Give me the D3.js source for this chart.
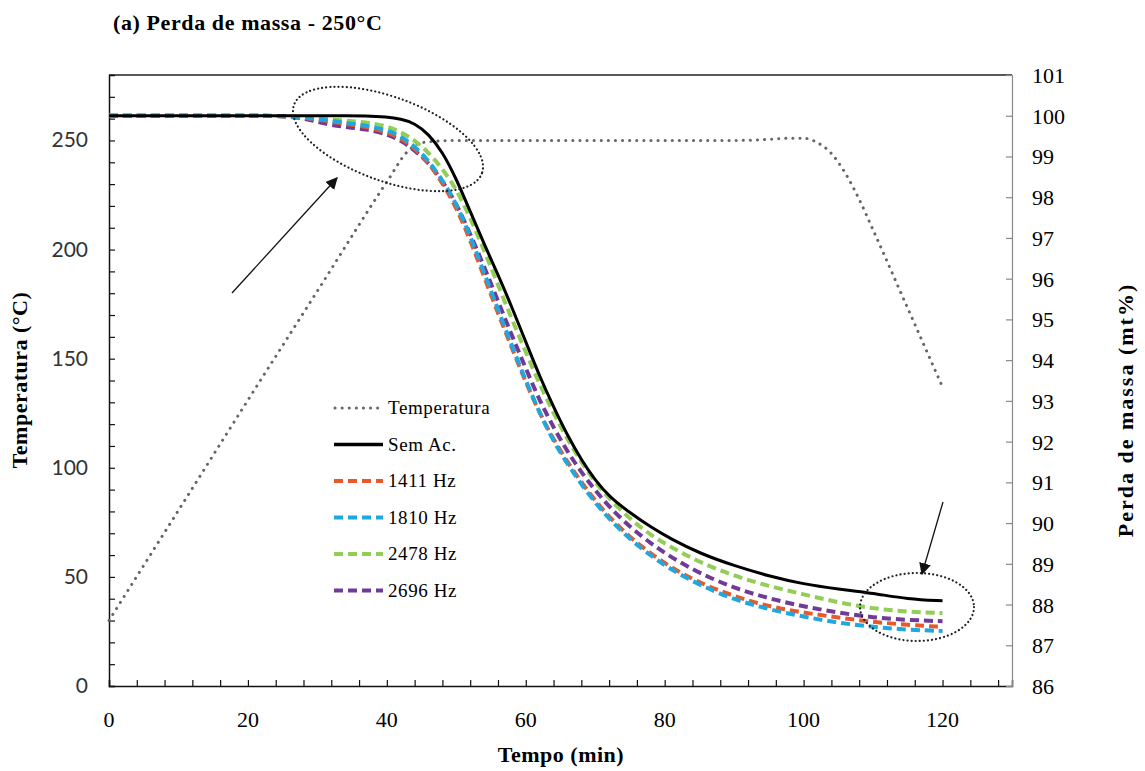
<!DOCTYPE html>
<html>
<head>
<meta charset="utf-8">
<script src="https://cdn.jsdelivr.net/npm/d3@7"></script>
<style>
  body { margin: 0; background: #fff; }
  svg { display: block; }
  .serif { font-family: "Liberation Serif", "Times New Roman", serif; }
</style>
</head>
<body>
<svg id="chart" width="1145" height="771"></svg>
<script>
// time (min) shared by every series
var tempo = [0, 10, 20, 24, 28, 31, 34, 37, 40, 42, 44, 46, 48, 50, 52, 54, 56, 58, 60,
    62, 64, 66, 68, 70, 72, 75, 78, 81, 85, 90, 95, 100, 105, 110, 115, 120];

// temperature program (left axis, °C)
var tempoTemp = [0, 10, 20, 30, 40, 43, 45, 50, 60, 70, 80, 90, 95, 98, 100, 102, 104, 106, 108, 110, 115, 120];
var temperatura = [30, 80.5, 131, 181, 231, 245, 249, 250, 250, 250, 250, 250, 250.5, 251, 251, 249, 244, 235, 223, 209, 173, 137];

// mass (right axis, wt%)
var semAc = [100, 100, 100, 100, 100, 100, 100, 100, 99.97, 99.92, 99.82, 99.55, 99.12, 98.45, 97.65, 96.85, 96.1, 95.3, 94.45,
    93.6, 92.85, 92.15, 91.55, 91.05, 90.65, 90.25, 89.9, 89.6, 89.26, 88.95, 88.7, 88.5, 88.38, 88.28, 88.13, 88.09];
var hz1411 = [100, 100, 100, 100, 99.96, 99.88, 99.8, 99.73, 99.6, 99.45, 99.2, 98.85, 98.35, 97.75, 96.95, 96.05, 95.15, 94.3, 93.45,
    92.7, 92.05, 91.5, 91.0, 90.55, 90.15, 89.65, 89.25, 88.9, 88.53, 88.2, 87.95, 87.8, 87.68, 87.57, 87.5, 87.45];
var hz1810 = [100, 100, 100, 100, 99.96, 99.9, 99.83, 99.76, 99.65, 99.5, 99.25, 98.9, 98.42, 97.85, 97.05, 96.15, 95.25, 94.35, 93.5,
    92.7, 92.0, 91.45, 90.95, 90.5, 90.1, 89.6, 89.2, 88.85, 88.48, 88.12, 87.88, 87.7, 87.55, 87.45, 87.38, 87.35];
var hz2478 = [100, 100, 100, 100, 99.97, 99.92, 99.88, 99.84, 99.75, 99.6, 99.4, 99.1, 98.7, 98.2, 97.5, 96.7, 95.85, 95.0, 94.2,
    93.4, 92.7, 92.05, 91.5, 91.0, 90.6, 90.1, 89.7, 89.4, 89.04, 88.7, 88.45, 88.25, 88.05, 87.9, 87.82, 87.79];
var hz2696 = [100, 100, 100, 100, 99.95, 99.8, 99.72, 99.67, 99.55, 99.4, 99.15, 98.85, 98.4, 97.85, 97.1, 96.3, 95.45, 94.6, 93.8,
    93.0, 92.35, 91.75, 91.25, 90.8, 90.4, 89.9, 89.5, 89.15, 88.77, 88.4, 88.15, 87.95, 87.8, 87.68, 87.62, 87.59];

var seriesNames = ["Sem Ac.", "1411 Hz", "1810 Hz", "2478 Hz", "2696 Hz"];
var seriesColors = ["#000000", "#e8582b", "#1fa8de", "#92cd55", "#6f3a98"];
var seriesValues = [semAc, hz1411, hz1810, hz2478, hz2696];

var xTicksMajor = [0, 20, 40, 60, 80, 100, 120];
var yLeftTicks = [0, 50, 100, 150, 200, 250];
var yRightTicks = d3.range(86, 102);

var plotL = 109, plotR = 1012, plotT = 75, plotB = 686;
var svg = d3.select("#chart");

var x = d3.scaleLinear().domain([0, 130]).range([plotL, plotR]);
var yL = d3.scaleLinear().domain([0, 280]).range([plotB, plotT]);
var yR = d3.scaleLinear().domain([86, 101]).range([plotB, plotT]);

// title
svg.append("text").attr("class", "serif").attr("x", 113).attr("y", 30)
    .style("font-size", "22px").style("font-weight", "bold").style("letter-spacing", "0.6px")
    .text("(a) Perda de massa - 250°C");

// frame top line
svg.append("line").attr("x1", plotL).attr("x2", plotR).attr("y1", plotT).attr("y2", plotT)
    .attr("stroke", "#222").attr("stroke-width", 1.3);

// bottom axis, small ticks every 4 min pointing inward
var xAxis = svg.append("g").attr("transform", "translate(0," + plotB + ")");
xAxis.call(d3.axisTop(x).tickValues(d3.range(0, 130, 4)).tickSize(6).tickFormat(""));
xAxis.select(".domain").attr("stroke", "#111").attr("stroke-width", 1.5);
xAxis.selectAll(".tick line").attr("stroke", "#111").attr("stroke-width", 1.2);
svg.append("g").selectAll("text").data(xTicksMajor).join("text")
    .attr("class", "serif").attr("x", function (d) { return x(d); }).attr("y", 727)
    .attr("text-anchor", "middle").style("font-size", "22px").text(function (d) { return d; });

// left axis
var yAxis = svg.append("g").attr("transform", "translate(" + plotL + ",0)");
yAxis.call(d3.axisRight(yL).tickValues(d3.range(0, 280, 10)).tickSize(6).tickFormat(""));
yAxis.select(".domain").attr("stroke", "#111").attr("stroke-width", 1.5);
yAxis.selectAll(".tick line").attr("stroke", "#111").attr("stroke-width", 1.2);
svg.append("g").selectAll("text").data(yLeftTicks).join("text")
    .attr("x", 88).attr("y", function (d) { return yL(d) + 7; })
    .attr("text-anchor", "end").style("font-family", "Lato, 'Open Sans', sans-serif")
    .style("font-size", "21px").style("fill", "#333").text(function (d) { return d; });

// right axis (grey)
var yAxisR = svg.append("g").attr("transform", "translate(" + plotR + ",0)");
yAxisR.call(d3.axisLeft(yR).tickValues(yRightTicks).tickSize(6).tickFormat(""));
yAxisR.select(".domain").attr("stroke", "#888").attr("stroke-width", 1.2);
yAxisR.selectAll(".tick line").attr("stroke", "#888").attr("stroke-width", 1.2);
svg.append("g").selectAll("text").data(yRightTicks).join("text")
    .attr("class", "serif").attr("x", 1032).attr("y", function (d) { return yR(d) + 8; })
    .style("font-size", "22px").text(function (d) { return d; });

// axis titles
svg.append("text").attr("class", "serif")
    .attr("transform", "translate(27,380) rotate(-90)").attr("text-anchor", "middle")
    .style("font-size", "22px").style("font-weight", "bold").style("letter-spacing", "0.5px")
    .text("Temperatura (°C)");
svg.append("text").attr("class", "serif")
    .attr("transform", "translate(1133,410) rotate(-90)").attr("text-anchor", "middle")
    .style("font-size", "22px").style("font-weight", "bold").style("letter-spacing", "2px")
    .text("Perda de massa (mt%)");
svg.append("text").attr("class", "serif").attr("x", 561).attr("y", 762)
    .attr("text-anchor", "middle").style("font-size", "22px").style("font-weight", "bold")
    .style("letter-spacing", "0.5px").text("Tempo (min)");

// temperature line
var tempLine = d3.line().x(function (d) { return x(d[0]); }).y(function (d) { return yL(d[1]); })
    .curve(d3.curveMonotoneX);
svg.append("path").datum(d3.zip(tempoTemp, temperatura)).attr("d", tempLine)
    .attr("fill", "none").attr("stroke", "#666").attr("stroke-width", 3)
    .attr("stroke-dasharray", "0.1 7").attr("stroke-linecap", "round");

// mass curves, dashed first, Sem Ac. on top
var massLine = d3.line().x(function (d) { return x(d[0]); }).y(function (d) { return yR(d[1]); })
    .curve(d3.curveBasis);
[3, 4, 1, 2, 0].forEach(function (i) {
    var p = svg.append("path").datum(d3.zip(tempo, seriesValues[i])).attr("d", massLine)
        .attr("fill", "none").attr("stroke", seriesColors[i]).attr("stroke-width", 4);
    if (i > 0) p.attr("stroke-dasharray", "9 5");
    else p.attr("stroke-width", 3);
});

// annotations
svg.append("ellipse").attr("cx", 388).attr("cy", 139).attr("rx", 100).attr("ry", 42)
    .attr("transform", "rotate(20,388,139)")
    .attr("fill", "none").attr("stroke", "#222").attr("stroke-width", 2.2)
    .attr("stroke-dasharray", "0.1 4").attr("stroke-linecap", "round");
svg.append("ellipse").attr("cx", 917).attr("cy", 607).attr("rx", 57).attr("ry", 34)
    .attr("fill", "none").attr("stroke", "#222").attr("stroke-width", 2.2)
    .attr("stroke-dasharray", "0.1 4").attr("stroke-linecap", "round");

svg.append("defs").append("marker").attr("id", "arrow").attr("viewBox", "0 0 10 10")
    .attr("refX", 9).attr("refY", 5).attr("markerWidth", 12).attr("markerHeight", 12)
    .attr("markerUnits", "userSpaceOnUse").attr("orient", "auto")
    .append("path").attr("d", "M0,0L10,5L0,10z").attr("fill", "#111");
svg.append("line").attr("x1", 232).attr("y1", 293).attr("x2", 337).attr("y2", 178)
    .attr("stroke", "#111").attr("stroke-width", 1.3).attr("marker-end", "url(#arrow)");
svg.append("line").attr("x1", 943).attr("y1", 502).attr("x2", 922).attr("y2", 574)
    .attr("stroke", "#111").attr("stroke-width", 1.3).attr("marker-end", "url(#arrow)");

// legend
var legend = svg.append("g").attr("class", "serif");
var legNames = ["Temperatura"].concat(seriesNames);
var legColors = ["#666"].concat(seriesColors);
legNames.forEach(function (name, i) {
    var yy = 408 + i * 36.5;
    var ln = legend.append("line").attr("x1", 334).attr("x2", 383).attr("y1", yy).attr("y2", yy)
        .attr("stroke", legColors[i]);
    if (i === 0) ln.attr("stroke-width", 3).attr("stroke-dasharray", "0.1 7").attr("stroke-linecap", "round")
        .attr("x1", 335).attr("x2", 380);
    else if (i === 1) ln.attr("stroke-width", 3.5);
    else ln.attr("stroke-width", 4).attr("stroke-dasharray", "9 5");
    legend.append("text").attr("x", 388).attr("y", yy + 6).style("font-size", "19px")
        .style("letter-spacing", "0.6px").text(name);
});
</script>
</body>
</html>
